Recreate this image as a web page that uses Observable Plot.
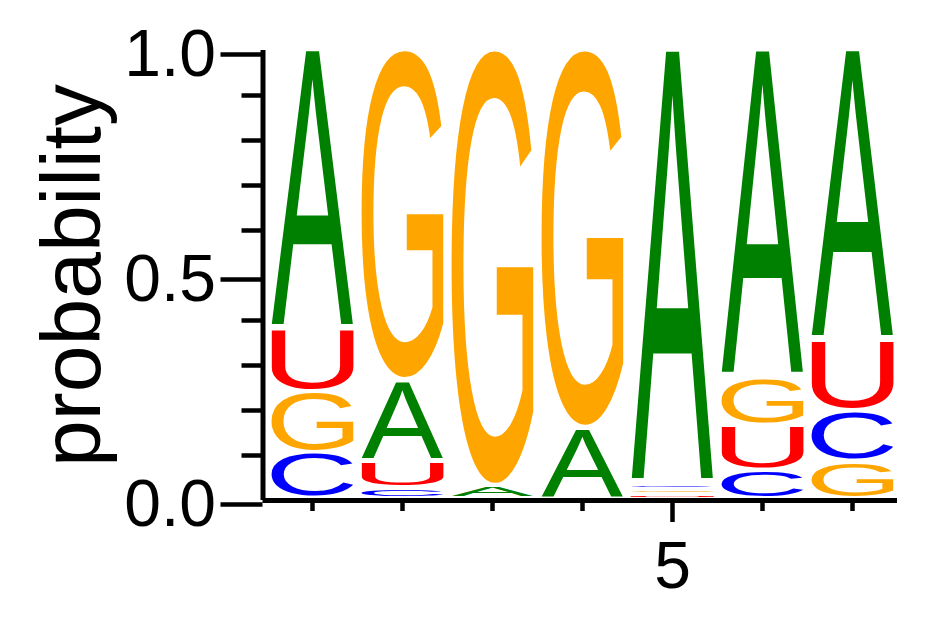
<!DOCTYPE html>
<html>
<head>
<meta charset="utf-8">
<style>
  html, body { margin: 0; padding: 0; background: #fff; }
  #chart svg { display: block; }
</style>
<script src="https://cdn.jsdelivr.net/npm/d3@7"></script>
<script src="https://cdn.jsdelivr.net/npm/@observablehq/plot@0.6"></script>
</head>
<body>
<div id="chart"></div>
<script>
// ---- data (probability per position) ----
const positions = [1, 2, 3, 4, 5, 6, 7];
const letters = ["A", "C", "G", "U"];
const probA = [0.622, 0.180, 0.029, 0.158, 0.967, 0.729, 0.647];
const probC = [0.102, 0.024, 0.000, 0.000, 0.012, 0.064, 0.112];
const probG = [0.137, 0.736, 0.971, 0.842, 0.011, 0.107, 0.084];
const probU = [0.139, 0.060, 0.000, 0.000, 0.010, 0.100, 0.157];
const letterColors = ["#008000", "#0000ff", "#ffa500", "#ff0000"];
const yMajorTicks = [0, 0.5, 1];
const yMinorTicks = [0.1, 0.2, 0.3, 0.4, 0.6, 0.7, 0.8, 0.9];
const xMajorTicks = [5];
const xMinorTicks = [1, 2, 3, 4, 6, 7];
const yLabel = "probability";

// ---- build stacked table (smallest probability at the bottom) ----
const probs = {A: probA, C: probC, G: probG, U: probU};
const stacked = [];
positions.forEach((pos, i) => {
  const col = letters.map(l => ({letter: l, p: probs[l][i]})).filter(d => d.p > 0);
  col.sort((a, b) => a.p - b.p);
  let acc = 0;
  for (const d of col) {
    stacked.push({pos, letter: d.letter, p: d.p, y0: acc, y1: acc + d.p});
    acc += d.p;
  }
});

const FONT = "Liberation Sans";
const halfW = 0.455;   // half glyph width in x units
const gapPx = 4.5;     // blank below each glyph

const plot = Plot.plot({
  width: 942,
  height: 617,
  marginTop: 50,
  marginBottom: 117,
  marginLeft: 262.5,
  marginRight: 45,
  style: {fontFamily: FONT, background: "#fff", color: "#000", overflow: "visible"},
  x: {domain: [0.45, 7.5], axis: null},
  y: {domain: [0, 1], axis: null},
  color: {domain: letters, range: letterColors},
  marks: [
    Plot.text(stacked, {x: "pos", y: "y0", text: "letter", fill: "letter", fontSize: 100}),
    Plot.axisY(yMajorTicks, {tickSize: 42, tickPadding: 5, strokeWidth: 4.5, fontSize: 66, dy: 4,
      tickFormat: d3.format(".1f"), label: null}),
    Plot.axisY(yMinorTicks, {tickSize: 21, strokeWidth: 4.5, tickFormat: () => "", label: null}),
    Plot.axisX(xMinorTicks, {tickSize: 11, strokeWidth: 4.5, tickFormat: () => "", label: null}),
    Plot.axisX(xMajorTicks, {tickSize: 22, tickPadding: 19, strokeWidth: 4.5, fontSize: 66,
      tickFormat: d3.format("d"), label: null}),
    Plot.ruleX([0.45], {strokeWidth: 5}),
    Plot.ruleY([0], {strokeWidth: 5}),
    Plot.text([yLabel], {frameAnchor: "left", textAnchor: "middle", lineAnchor: "middle",
      rotate: -90, fontSize: 84, dx: -190, fill: "#000"})
  ]
});

document.getElementById("chart").appendChild(plot);

// ---- stretch every glyph to fill its stacked slot (via the plot's own scales) ----
const xs = plot.scale("x"), ys = plot.scale("y");
const F = 200;
const ctx = document.createElement("canvas").getContext("2d");
ctx.font = `${F}px "${FONT}"`;
ctx.textAlign = "left";
ctx.textBaseline = "alphabetic";
const logoGroup = plot.querySelector('g[aria-label="text"]');
const texts = logoGroup ? logoGroup.querySelectorAll("text") : [];
texts.forEach((t, i) => {
  const d = stacked[i];
  if (!d) return;
  const m = ctx.measureText(d.letter);
  const left = -m.actualBoundingBoxLeft, right = m.actualBoundingBoxRight;
  const top = -m.actualBoundingBoxAscent, bottom = m.actualBoundingBoxDescent;
  const xL = xs.apply(d.pos - halfW), xR = xs.apply(d.pos + halfW);
  const yT = ys.apply(d.y1);
  const yB = Math.max(ys.apply(d.y0) - gapPx, yT + 0.6);
  const sx = (xR - xL) / (right - left);
  const sy = (yB - yT) / (bottom - top);
  t.removeAttribute("x");
  t.removeAttribute("y");
  t.removeAttribute("dy");
  t.setAttribute("font-size", F);
  t.setAttribute("font-family", FONT);
  t.setAttribute("text-anchor", "start");
  t.setAttribute("transform", `translate(${xL},${yT}) scale(${sx},${sy}) translate(${-left},${-top})`);
});
</script>
</body>
</html>
